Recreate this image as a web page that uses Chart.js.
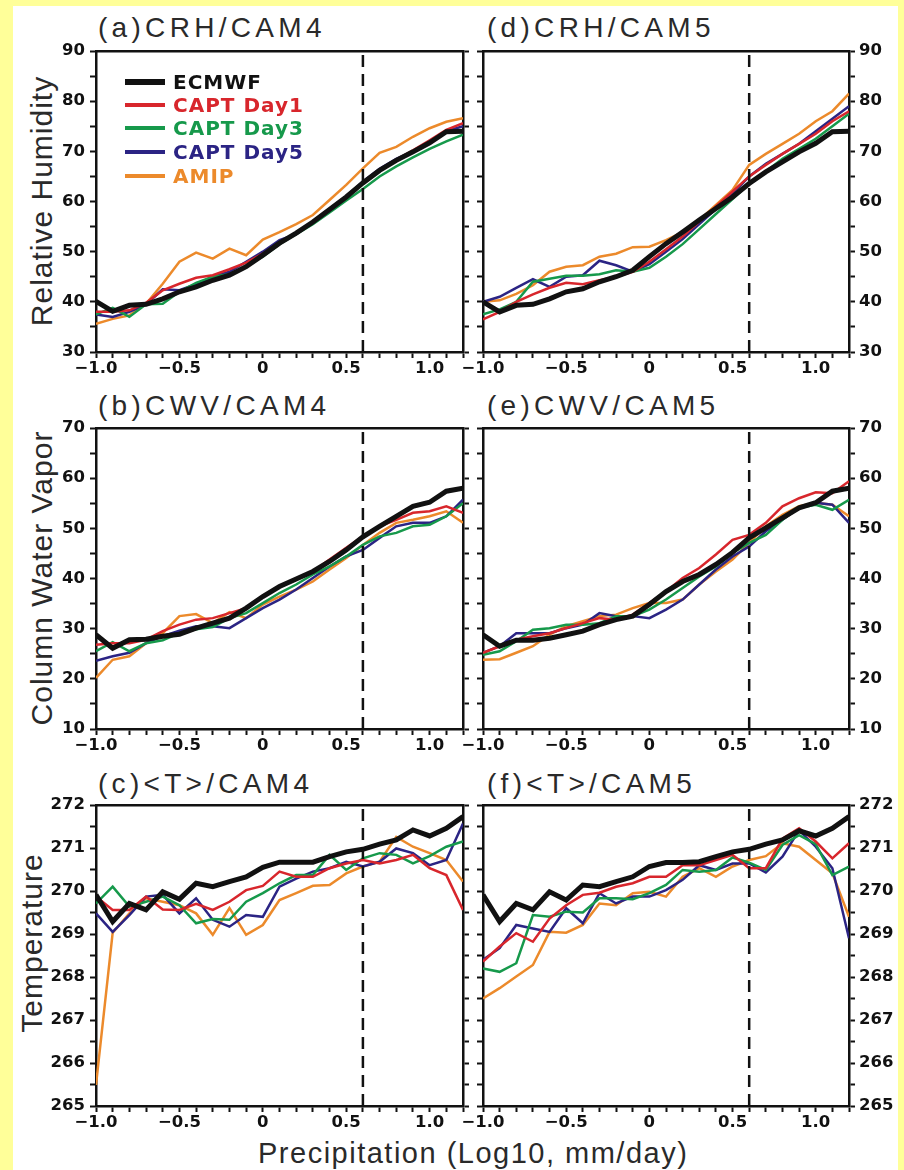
<!DOCTYPE html>
<html>
<head>
<meta charset="utf-8">
<title>CRH, CWV and T against precipitation</title>
<script src="https://cdn.jsdelivr.net/npm/chart.js"></script>
<style>
  body { margin: 0; background: #ffff99; width: 904px; height: 1170px; position: relative; overflow: hidden;
         font-family: 'Liberation Sans', Arial, sans-serif; }
  #sheet { position: absolute; left: 13px; top: 6px; width: 885px; height: 1164px; background: #fff; }
  canvas { position: absolute; }
  .ptitle { position: absolute; font-size: 28px; line-height: 28px; letter-spacing: 4.3px; color: #2a2a2a; white-space: nowrap; }
  .ytitle { position: absolute; font-size: 30px; line-height: 30px; letter-spacing: 1px; color: #2a2a2a; white-space: nowrap;
            transform: translate(-50%, -50%) rotate(-90deg); }
  .xtitle { position: absolute; left: 258px; top: 1138px; font-size: 29px; line-height: 30px; letter-spacing: 1.5px; color: #2a2a2a; white-space: nowrap; }
  .leg { position: absolute; left: 125px; height: 24px; display: flex; align-items: center; }
  .leg span.sw { display: inline-block; width: 40px; margin-right: 8px; }
  .leg span.tx { font-family: 'DejaVu Sans', sans-serif; font-size: 20px; font-weight: bold; letter-spacing: 1px; line-height: 24px; }
</style>
</head>
<body>
<div id="sheet"></div>

<div class="ptitle" style="left:98px; top:14px;">(a)CRH/CAM4</div>
<div class="ptitle" style="left:487px; top:14px;">(d)CRH/CAM5</div>
<div class="ptitle" style="left:98px; top:392px;">(b)CWV/CAM4</div>
<div class="ptitle" style="left:487px; top:392px;">(e)CWV/CAM5</div>
<div class="ptitle" style="left:98px; top:770px;">(c)&lt;T&gt;/CAM4</div>
<div class="ptitle" style="left:487px; top:770px;">(f)&lt;T&gt;/CAM5</div>

<div class="ytitle" style="left:42px; top:201px;">Relative Humidity</div>
<div class="ytitle" style="left:42px; top:578px;">Column Water Vapor</div>
<div class="ytitle" style="left:32px; top:943px;">Temperature</div>
<div class="xtitle">Precipitation (Log10, mm/day)</div>

<canvas id="cA" width="460" height="351" style="left:13px; top:31px;"></canvas>
<canvas id="cD" width="440" height="351" style="left:458px; top:31px;"></canvas>
<canvas id="cB" width="460" height="351" style="left:13px; top:408px;"></canvas>
<canvas id="cE" width="440" height="351" style="left:458px; top:408px;"></canvas>
<canvas id="cC" width="460" height="351" style="left:13px; top:785px;"></canvas>
<canvas id="cF" width="440" height="351" style="left:458px; top:785px;"></canvas>

<div id="legend"></div>

<script>
    // x: log10 of precipitation bin (mm/day)
    const precipBins = [-1.0, -0.9, -0.8, -0.7, -0.6, -0.5, -0.4, -0.3, -0.2, -0.1, 0.0,
                        0.1, 0.2, 0.3, 0.4, 0.5, 0.6, 0.7, 0.8, 0.9, 1.0, 1.1, 1.2];
    const xMajorTicks = [-1.0, -0.5, 0, 0.5, 1.0];
    const xMajorLabels = ['\u22121.0', '\u22120.5', '0', '0.5', '1.0'];
    const dashX = 0.6;

    const crhMajorTicks = [30, 40, 50, 60, 70, 80, 90];
    const cwvMajorTicks = [10, 20, 30, 40, 50, 60, 70];
    const tMajorTicks = [265, 266, 267, 268, 269, 270, 271, 272];

    const seriesNames = ['ECMWF', 'CAPT Day1', 'CAPT Day3', 'CAPT Day5', 'AMIP'];
    const seriesColors = ['#111111', '#d8262c', '#16994b', '#2b2484', '#ec8a2b'];
    const seriesWidths = [5, 2.5, 2.5, 2.5, 2.5];

    // (a) CRH / CAM4
    const crhCam4Ecmwf = [40.1, 38.1, 39.3, 39.5, 40.6, 42.0, 43.0, 44.3, 45.3, 47.0, 49.3, 51.7, 53.7, 55.9, 58.4, 60.9, 63.7, 66.2, 68.2, 69.9, 71.7, 73.9, 74.0];
    const crhCam4Day1 = [38.0, 38.0, 38.3, 39.8, 42.3, 43.6, 44.8, 45.3, 46.5, 47.8, 49.6, 51.8, 53.8, 56.0, 58.5, 61.0, 63.8, 66.3, 68.3, 70.2, 72.2, 74.3, 75.6];
    const crhCam4Day3 = [37.5, 38.8, 37.0, 39.5, 39.6, 42.0, 43.8, 45.0, 45.5, 47.2, 49.0, 51.5, 53.5, 55.5, 57.8, 60.2, 62.5, 65.0, 67.0, 68.8, 70.5, 72.0, 73.3];
    const crhCam4Day5 = [37.5, 37.0, 38.0, 39.5, 42.5, 42.3, 43.5, 45.0, 46.0, 48.0, 50.0, 52.3, 53.5, 56.0, 58.5, 61.0, 64.0, 66.5, 68.5, 70.0, 72.0, 74.0, 75.0];
    const crhCam4Amip = [35.6, 36.6, 37.3, 39.6, 43.6, 48.0, 49.8, 48.6, 50.6, 49.3, 52.4, 53.9, 55.5, 57.3, 60.3, 63.3, 66.6, 69.7, 70.9, 72.9, 74.6, 75.9, 76.6];

    // (d) CRH / CAM5
    const crhCam5Ecmwf = [40.0, 38.0, 39.3, 39.5, 40.6, 42.0, 42.6, 44.0, 45.0, 46.3, 49.0, 51.6, 53.9, 56.3, 58.6, 60.9, 63.6, 65.9, 67.9, 69.9, 71.6, 73.9, 74.0];
    const crhCam5Day1 = [36.5, 38.0, 40.0, 41.5, 42.8, 43.8, 43.5, 44.3, 45.0, 46.0, 48.0, 50.5, 53.0, 56.0, 59.0, 62.0, 65.0, 67.3, 69.5, 71.5, 73.5, 76.0, 78.0];
    const crhCam5Day3 = [37.5, 38.5, 40.0, 44.0, 44.6, 45.2, 45.2, 45.5, 46.3, 46.0, 46.8, 49.0, 51.5, 54.5, 57.5, 60.5, 63.5, 66.0, 68.5, 70.5, 72.5, 75.0, 77.5];
    const crhCam5Day5 = [40.0, 41.0, 42.8, 44.5, 43.0, 45.0, 45.3, 48.2, 47.3, 46.0, 47.5, 50.0, 52.5, 55.5, 58.5, 61.5, 65.0, 67.5, 69.5, 71.5, 74.0, 76.5, 79.0];
    const crhCam5Amip = [40.0, 40.3, 41.6, 43.3, 46.0, 47.0, 47.3, 49.0, 49.6, 50.9, 51.0, 52.3, 53.9, 56.3, 59.3, 62.3, 67.3, 69.5, 71.5, 73.5, 76.0, 78.0, 81.5];

    // (b) CWV / CAM4
    const cwvCam4Ecmwf = [28.8, 26.1, 27.8, 27.9, 28.5, 28.9, 30.1, 31.1, 32.1, 34.1, 36.4, 38.4, 39.9, 41.4, 43.4, 45.7, 48.3, 50.4, 52.4, 54.4, 55.2, 57.4, 58.0];
    const cwvCam4Day1 = [26.8, 27.1, 27.1, 27.8, 29.5, 30.8, 31.8, 32.1, 33.1, 34.1, 36.4, 38.4, 39.8, 41.4, 43.8, 46.1, 48.4, 50.4, 51.7, 53.1, 53.4, 54.4, 53.1];
    const cwvCam4Day3 = [25.5, 27.3, 25.5, 27.1, 27.7, 29.1, 29.9, 30.3, 32.1, 33.1, 35.1, 37.1, 38.8, 40.8, 42.4, 44.4, 46.7, 48.4, 49.1, 50.4, 50.7, 52.4, 55.0];
    const cwvCam4Day5 = [23.6, 24.5, 25.2, 27.1, 28.5, 29.6, 30.5, 30.5, 30.1, 32.1, 34.1, 35.8, 37.8, 40.1, 42.4, 44.4, 45.7, 48.1, 50.4, 51.1, 51.1, 52.4, 55.7];
    const cwvCam4Amip = [20.2, 23.8, 24.5, 27.1, 29.1, 32.5, 32.9, 31.1, 33.3, 32.1, 34.8, 36.4, 37.8, 39.4, 41.8, 44.1, 46.7, 49.1, 51.1, 51.7, 52.4, 53.4, 51.1];

    // (e) CWV / CAM5
    const cwvCam5Ecmwf = [28.8, 26.5, 27.7, 27.7, 28.1, 28.8, 29.5, 30.8, 31.8, 32.5, 34.8, 37.4, 39.4, 40.8, 42.8, 45.2, 48.1, 50.1, 52.1, 54.1, 55.1, 57.4, 58.0];
    const cwvCam5Day1 = [25.2, 26.5, 27.8, 28.5, 29.1, 30.1, 31.1, 32.1, 31.8, 32.8, 35.1, 37.4, 40.1, 42.1, 44.8, 47.7, 48.7, 51.1, 54.4, 56.0, 57.2, 57.0, 59.4];
    const cwvCam5Day3 = [24.8, 25.5, 27.5, 29.8, 30.1, 30.8, 30.8, 31.1, 32.5, 32.5, 33.8, 35.8, 38.1, 40.4, 42.4, 45.1, 47.1, 48.7, 51.7, 54.1, 54.7, 53.7, 55.7];
    const cwvCam5Day5 = [25.2, 26.5, 29.1, 29.1, 29.1, 30.1, 30.8, 33.1, 32.5, 32.5, 32.1, 33.8, 35.8, 38.8, 41.8, 44.4, 46.4, 49.4, 51.7, 54.1, 55.1, 54.7, 51.1];
    const cwvCam5Amip = [23.8, 23.9, 25.2, 26.5, 28.8, 30.5, 31.5, 32.5, 32.8, 34.1, 35.1, 35.1, 35.8, 38.8, 41.4, 43.8, 47.1, 50.4, 52.7, 54.4, 55.1, 54.7, 52.4];

    // (c) <T> / CAM4
    const tCam4Ecmwf = [269.91, 269.29, 269.71, 269.56, 269.98, 269.81, 270.18, 270.10, 270.22, 270.33, 270.55, 270.67, 270.67, 270.67, 270.80, 270.91, 270.97, 271.09, 271.19, 271.42, 271.28, 271.46, 271.73];
    const tCam4Day1 = [269.87, 269.56, 269.56, 269.87, 269.57, 269.56, 269.70, 269.56, 269.75, 270.02, 270.12, 270.45, 270.33, 270.33, 270.53, 270.64, 270.72, 270.64, 270.72, 270.84, 270.53, 270.37, 269.56];
    const tCam4Day3 = [269.71, 270.10, 269.64, 269.75, 269.87, 269.67, 269.25, 269.35, 269.33, 269.75, 269.95, 270.18, 270.37, 270.37, 270.84, 270.49, 270.76, 270.88, 270.84, 270.64, 270.81, 271.03, 271.15];
    const tCam4Day5 = [269.48, 269.05, 269.44, 269.87, 269.91, 269.48, 269.83, 269.33, 269.17, 269.44, 269.40, 270.10, 270.29, 270.45, 270.53, 270.68, 270.57, 270.68, 270.99, 270.88, 270.60, 270.72, 271.57];
    const tCam4Amip = [265.49, 269.03, 269.48, 269.83, 269.75, 269.67, 269.48, 268.98, 269.60, 268.98, 269.21, 269.79, 269.95, 270.12, 270.14, 270.41, 270.57, 270.68, 271.26, 271.03, 270.88, 270.72, 270.22];

    // (f) <T> / CAM5
    const tCam5Ecmwf = [269.91, 269.29, 269.71, 269.56, 269.98, 269.79, 270.14, 270.10, 270.22, 270.33, 270.57, 270.66, 270.66, 270.68, 270.80, 270.91, 270.97, 271.09, 271.19, 271.40, 271.28, 271.46, 271.73];
    const tCam5Day1 = [268.36, 268.71, 269.02, 268.82, 269.36, 269.67, 269.91, 269.96, 270.10, 270.18, 270.33, 270.33, 270.60, 270.60, 270.72, 270.84, 270.53, 270.53, 271.22, 271.46, 271.15, 270.76, 271.11];
    const tCam5Day3 = [268.20, 268.12, 268.32, 269.44, 269.40, 269.52, 269.50, 269.83, 269.83, 269.81, 269.95, 270.14, 270.49, 270.45, 270.49, 270.78, 270.66, 270.49, 271.07, 271.30, 271.09, 270.37, 270.57];
    const tCam5Day5 = [268.40, 268.67, 269.21, 269.13, 269.05, 269.60, 269.25, 269.95, 269.71, 269.87, 269.87, 270.02, 270.26, 270.60, 270.49, 270.64, 270.64, 270.43, 270.80, 271.41, 271.03, 270.53, 268.90];
    const tCam5Amip = [267.50, 267.74, 268.01, 268.28, 269.05, 269.03, 269.21, 269.71, 269.67, 269.95, 269.98, 269.87, 270.33, 270.53, 270.33, 270.57, 270.72, 270.81, 271.11, 271.03, 270.72, 270.41, 269.40];

    const tickFont = {family: "'DejaVu Sans', sans-serif", size: 16.5, weight: 'bold'};
    const ink = '#111111';

    function isOneOf(v, list) {
        return list.findIndex(m => Math.abs(m - v) < 1e-6);
    }

    function yScale(pos, labels, width, majors, step, pad) {
        return {
            type: 'linear', position: pos,
            min: majors[0], max: majors[majors.length - 1],
            grid: {drawOnChartArea: false, drawTicks: true, tickLength: 6, tickWidth: 2, tickColor: ink},
            border: {display: true, color: ink, width: 2.5},
            ticks: {
                stepSize: step, autoSkip: false, padding: pad, color: ink, font: tickFont,
                callback: v => (labels && isOneOf(v, majors) >= 0) ? String(Math.round(v)) : ''
            },
            afterFit: s => { s.width = width; }
        };
    }

    function makePanel(id, labelSide, majors, step, series) {
        const yMin = majors[0], yMax = majors[majors.length - 1];
        const datasets = [{
            data: [{x: dashX, y: yMin}, {x: dashX, y: yMax}],
            borderColor: ink, borderWidth: 2.5, borderDash: [12, 7], pointRadius: 0
        }];
        series.forEach((vals, k) => {
            datasets.push({
                label: seriesNames[k],
                data: vals.map((v, i) => ({x: precipBins[i], y: v})),
                borderColor: seriesColors[k],
                borderWidth: seriesWidths[k],
                pointRadius: 0,
                tension: 0
            });
        });

        const left = labelSide === 'left';
        new Chart(document.getElementById(id), {
            type: 'line',
            data: {datasets: datasets},
            options: {
                responsive: false,
                animation: false,
                events: [],
                layout: {padding: 0},
                plugins: {legend: {display: false}, tooltip: {enabled: false}},
                scales: {
                    x: {
                        type: 'linear', position: 'bottom',
                        min: precipBins[0], max: precipBins[precipBins.length - 1],
                        grid: {drawOnChartArea: false, drawTicks: true, tickLength: 6, tickWidth: 2, tickColor: ink},
                        border: {display: true, color: ink, width: 2.5},
                        ticks: {
                            stepSize: 0.1, autoSkip: false, maxRotation: 0, padding: 1, color: ink, font: tickFont,
                            callback: v => {
                                const k = isOneOf(v, xMajorTicks);
                                return k >= 0 ? xMajorLabels[k] : '';
                            }
                        },
                        afterFit: s => { s.height = 30; }
                    },
                    xTop: {
                        type: 'linear', position: 'top',
                        min: precipBins[0], max: precipBins[precipBins.length - 1],
                        grid: {display: false},
                        border: {display: true, color: ink, width: 2.5},
                        ticks: {display: false},
                        afterFit: s => { s.height = 20; }
                    },
                    y: yScale('left', left, left ? 83 : 25, majors, step, 5),
                    y2: yScale('right', !left, left ? 10 : 49, majors, step, 4)
                }
            }
        });
    }

    makePanel('cA', 'left', crhMajorTicks, 5, [crhCam4Ecmwf, crhCam4Day1, crhCam4Day3, crhCam4Day5, crhCam4Amip]);
    makePanel('cD', 'right', crhMajorTicks, 5, [crhCam5Ecmwf, crhCam5Day1, crhCam5Day3, crhCam5Day5, crhCam5Amip]);
    makePanel('cB', 'left', cwvMajorTicks, 5, [cwvCam4Ecmwf, cwvCam4Day1, cwvCam4Day3, cwvCam4Day5, cwvCam4Amip]);
    makePanel('cE', 'right', cwvMajorTicks, 5, [cwvCam5Ecmwf, cwvCam5Day1, cwvCam5Day3, cwvCam5Day5, cwvCam5Amip]);
    makePanel('cC', 'left', tMajorTicks, 0.5, [tCam4Ecmwf, tCam4Day1, tCam4Day3, tCam4Day5, tCam4Amip]);
    makePanel('cF', 'right', tMajorTicks, 0.5, [tCam5Ecmwf, tCam5Day1, tCam5Day3, tCam5Day5, tCam5Amip]);

    // legend inside panel (a)
    const legendRows = [82, 105, 128, 152, 176];
    const legend = document.getElementById('legend');
    seriesNames.forEach((name, k) => {
        const row = document.createElement('div');
        row.className = 'leg';
        row.style.top = (legendRows[k] - 12) + 'px';
        row.innerHTML = '<span class="sw" style="height:' + (k === 0 ? 6 : 4) + 'px; background:' + seriesColors[k] + ';"></span>' +
                        '<span class="tx" style="color:' + seriesColors[k] + ';">' + name + '</span>';
        legend.appendChild(row);
    });
</script>
</body>
</html>
